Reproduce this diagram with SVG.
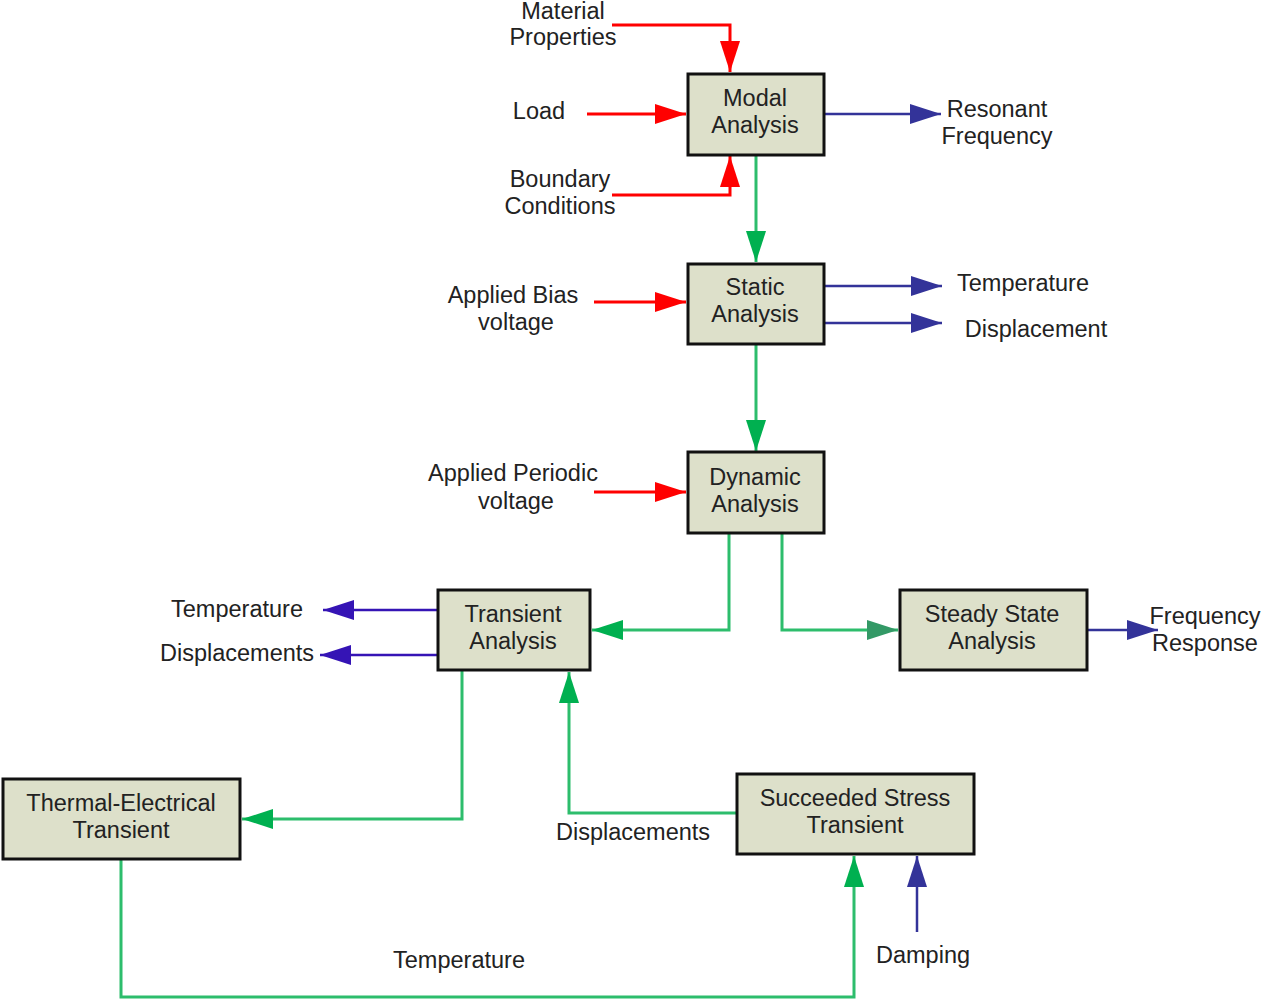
<svg xmlns="http://www.w3.org/2000/svg" width="1264" height="1000" viewBox="0 0 1264 1000">
<defs>
<style>
.box{fill:#dde0ca;stroke:#111;stroke-width:3}
.t{font-family:"Liberation Sans",Arial,sans-serif;font-size:23.5px;fill:#222;text-anchor:middle}
.r{fill:none;stroke:#ff0000;stroke-width:3}
.b{fill:none;stroke:#333399;stroke-width:2.5}
.p{fill:none;stroke:#3514b5;stroke-width:2.5}
.g{fill:none;stroke:#2dbd6c;stroke-width:3}
</style>
<marker id="ar" markerUnits="userSpaceOnUse" markerWidth="32" markerHeight="22" refX="31" refY="11" orient="auto" viewBox="0 0 32 22"><path d="M0,1 L31,11 L0,21 z" fill="#ff0000"/></marker>
<marker id="ab" markerUnits="userSpaceOnUse" markerWidth="32" markerHeight="22" refX="31" refY="11" orient="auto" viewBox="0 0 32 22"><path d="M0,1 L31,11 L0,21 z" fill="#333399"/></marker>
<marker id="ap" markerUnits="userSpaceOnUse" markerWidth="32" markerHeight="22" refX="31" refY="11" orient="auto" viewBox="0 0 32 22"><path d="M0,1 L31,11 L0,21 z" fill="#3514b5"/></marker>
<marker id="ag" markerUnits="userSpaceOnUse" markerWidth="32" markerHeight="22" refX="31" refY="11" orient="auto" viewBox="0 0 32 22"><path d="M0,1 L31,11 L0,21 z" fill="#00b050"/></marker>
<marker id="at" markerUnits="userSpaceOnUse" markerWidth="32" markerHeight="22" refX="31" refY="11" orient="auto" viewBox="0 0 32 22"><path d="M0,1 L31,11 L0,21 z" fill="#339966"/></marker>
</defs>
<rect width="1264" height="1000" fill="#ffffff"/>
<g id="connectors">
<path class="r" d="M612,25 H730 V72" marker-end="url(#ar)"/>
<path class="r" d="M587,114 H686" marker-end="url(#ar)"/>
<path class="r" d="M612,195 H730 V156" marker-end="url(#ar)"/>
<path class="b" d="M825,114 H941" marker-end="url(#ab)"/>
<path class="g" d="M756,156 V262" marker-end="url(#ag)"/>
<path class="r" d="M594,302 H686" marker-end="url(#ar)"/>
<path class="b" d="M825,286 H942" marker-end="url(#ab)"/>
<path class="b" d="M825,323 H942" marker-end="url(#ab)"/>
<path class="g" d="M756,345 V451" marker-end="url(#ag)"/>
<path class="r" d="M594,492 H686" marker-end="url(#ar)"/>
<path class="g" d="M729,534 V630 H592" marker-end="url(#ag)"/>
<path class="g" d="M782,534 V630 H898" marker-end="url(#at)"/>
<path class="b" d="M1088,630 H1158" marker-end="url(#ab)"/>
<path class="p" d="M440,610 H323" marker-end="url(#ap)"/>
<path class="p" d="M440,655 H320" marker-end="url(#ap)"/>
<path class="g" d="M462,671 V819 H242" marker-end="url(#ag)"/>
<path class="g" d="M736,813 H569 V672" marker-end="url(#ag)"/>
<path class="g" d="M121,860 V997 H854 V856" marker-end="url(#ag)"/>
<path class="b" d="M917,932 V856" marker-end="url(#ab)"/>
</g>
<g id="input-labels">
<text class="t" x="563" y="19">Material</text>
<text class="t" x="563" y="45">Properties</text>
<text class="t" x="539" y="119">Load</text>
<text class="t" x="560" y="187">Boundary</text>
<text class="t" x="560" y="214">Conditions</text>
<text class="t" x="997" y="117">Resonant</text>
<text class="t" x="997" y="144">Frequency</text>
<text class="t" x="513" y="303">Applied Bias</text>
<text class="t" x="516" y="330">voltage</text>
<text class="t" x="1023" y="291">Temperature</text>
<text class="t" x="1036" y="337">Displacement</text>
<text class="t" x="513" y="481">Applied Periodic</text>
<text class="t" x="516" y="509">voltage</text>
<text class="t" x="237" y="617">Temperature</text>
<text class="t" x="237" y="661">Displacements</text>
<text class="t" x="1205" y="624">Frequency</text>
<text class="t" x="1205" y="651">Response</text>
<text class="t" x="633" y="840">Displacements</text>
<text class="t" x="459" y="968">Temperature</text>
<text class="t" x="923" y="963">Damping</text>
</g>
<g id="modal"><rect class="box" x="688" y="74" width="136" height="81"/><text class="t" x="755" y="106">Modal</text><text class="t" x="755" y="133">Analysis</text></g>
<g id="static"><rect class="box" x="688" y="264" width="136" height="80"/><text class="t" x="755" y="295">Static</text><text class="t" x="755" y="322">Analysis</text></g>
<g id="dynamic"><rect class="box" x="688" y="452" width="136" height="81"/><text class="t" x="755" y="485">Dynamic</text><text class="t" x="755" y="512">Analysis</text></g>
<g id="transient"><rect class="box" x="438" y="590" width="152" height="80"/><text class="t" x="513" y="622">Transient</text><text class="t" x="513" y="649">Analysis</text></g>
<g id="steady"><rect class="box" x="900" y="590" width="187" height="80"/><text class="t" x="992" y="622">Steady State</text><text class="t" x="992" y="649">Analysis</text></g>
<g id="thermal"><rect class="box" x="3" y="779" width="237" height="80"/><text class="t" x="121" y="811">Thermal-Electrical</text><text class="t" x="121" y="838">Transient</text></g>
<g id="succeeded"><rect class="box" x="737" y="774" width="237" height="80"/><text class="t" x="855" y="806">Succeeded Stress</text><text class="t" x="855" y="833">Transient</text></g>
</svg>
